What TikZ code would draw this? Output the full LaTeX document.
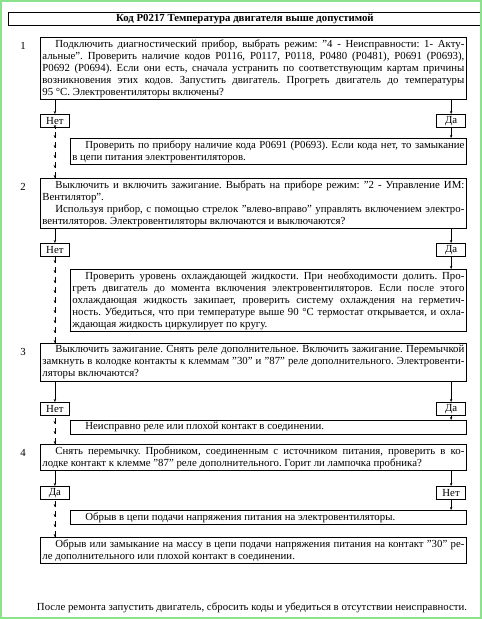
\documentclass[tikz,border=0pt]{standalone}
\usepackage{fontspec}
\defaultfontfeatures{}
\setmainfont{Liberation Serif}
\usetikzlibrary{arrows.meta,decorations.markings}

\definecolor{frameGreen}{RGB}{140,225,140}
\newcommand{\ind}{\hspace*{13pt}}
\newcommand{\nl}{\linebreak}
\frenchspacing

\tikzset{
  txt/.style={font=\fontsize{10.8}{12}\selectfont},
  stepbox/.style={txt, draw, line width=0.8pt, anchor=north west, inner xsep=2pt, inner ysep=2pt,
    align=justify, text width=#1},
  answer/.style={txt, draw, line width=0.8pt, minimum width=29pt, minimum height=13pt, inner sep=1pt},
  stepnum/.style={txt, anchor=north},
  flow/.style={-{Stealth[length=3pt,width=2.4pt]}, line width=0.5pt},
  chain/.style={line width=0.5pt, dash pattern=on 6pt off 4pt,
    postaction={decorate, decoration={markings,
      mark=between positions 0 and 1 step 10pt with {\arrowreversed{Stealth[length=3pt,width=2.4pt]}}}}},
}

\begin{document}
\begin{tikzpicture}[x=1pt,y=-1pt]
    \useasboundingbox (0,0) rectangle (482,619);

    \node[txt, draw, line width=0.8pt, anchor=north west, minimum width=473pt, minimum height=13pt, inner sep=0pt,
      font=\fontsize{10.8}{12}\selectfont\bfseries] (title) at (8,12)
      {Код P0217 Температура двигателя выше допустимой};

    % step 1
    \node[stepbox=422pt] (box1) at (40,37) {\ind Подключить диагностический прибор, выбрать режим: "4 - Неисправности: 1- Акту-\nl
      альные". Проверить наличие кодов P0116, P0117, P0118, P0480 (P0481), P0691 (P0693),\nl
      P0692 (P0694). Если они есть, сначала устранить по соответствующим картам причины\nl
      возникновения этих кодов. Запустить двигатель. Прогреть двигатель до температуры\nl
      95 °C. Электровентиляторы включены?};
    \node[stepnum] (num1) at ([xshift=-17pt,yshift=-2pt]box1.north west) {1};
    \node[answer, anchor=north west] (no1) at (40,114) {Нет};
    \node[answer, anchor=north east] (yes1) at (466,114) {Да};
    \node[stepbox=392pt] (box1a) at (70,138) {\ind Проверить по прибору наличие кода P0691 (P0693). Если кода нет, то замыкание\nl
      в цепи питания электровентиляторов.};
    \draw[flow] (no1.north |- box1.south) -- (no1.north);
    \draw[flow] (yes1.north |- box1.south) -- (yes1.north);
    \draw[flow] (yes1.south) -- (yes1.south |- box1a.north);

    % step 2
    \node[stepbox=422pt] (box2) at (40,178) {\ind Выключить и включить зажигание. Выбрать на приборе режим: "2 - Управление ИМ:\nl
      Вентилятор".\par
      \ind Используя прибор, с помощью стрелок "влево-вправо" управлять включением электро-\nl
      вентиляторов. Электровентиляторы включаются и выключаются?};
    \node[stepnum] (num2) at ([xshift=-17pt,yshift=-2pt]box2.north west) {2};
    \draw[chain] (no1.south |- box2.north) -- (no1.south);
    \node[answer, anchor=north west] (no2) at (40,243) {Нет};
    \node[answer, anchor=north east] (yes2) at (466,243) {Да};
    \node[stepbox=392pt] (box2a) at (70,269) {\ind Проверить уровень охлаждающей жидкости. При необходимости долить. Про-\nl
      греть двигатель до момента включения электровентиляторов. Если после этого\nl
      охлаждающая жидкость закипает, проверить систему охлаждения на герметич-\nl
      ность. Убедиться, что при температуре выше 90 °C термостат открывается, и охла-\nl
      ждающая жидкость циркулирует по кругу.};
    \draw[flow] (no2.north |- box2.south) -- (no2.north);
    \draw[flow] (yes2.north |- box2.south) -- (yes2.north);
    \draw[flow] (yes2.south) -- (yes2.south |- box2a.north);

    % step 3
    \node[stepbox=422pt] (box3) at (40,343) {\ind Выключить зажигание. Снять реле дополнительное. Включить зажигание. Перемычкой\nl
      замкнуть в колодке контакты к клеммам "30" и "87" реле дополнительного. Электровенти-\nl
      ляторы включаются?};
    \node[stepnum] (num3) at ([xshift=-17pt,yshift=-2pt]box3.north west) {3};
    \draw[chain] (no2.south |- box3.north) -- (no2.south);
    \node[answer, anchor=north west] (no3) at (40,402) {Нет};
    \node[answer, anchor=north east] (yes3) at (466,402) {Да};
    \node[stepbox=392pt] (box3a) at (70,420) {\ind Неисправно реле или плохой контакт в соединении.};
    \draw[flow] (no3.north |- box3.south) -- (no3.north);
    \draw[flow] (yes3.north |- box3.south) -- (yes3.north);
    \draw[flow] (yes3.south) -- (yes3.south |- box3a.north);

    % step 4
    \node[stepbox=422pt] (box4) at (40,444) {\ind Снять перемычку. Пробником, соединенным с источником питания, проверить в ко-\nl
      лодке контакт к клемме "87" реле дополнительного. Горит ли лампочка пробника?};
    \node[stepnum] (num4) at ([xshift=-17pt,yshift=-2pt]box4.north west) {4};
    \draw[chain] (no3.south |- box4.north) -- (no3.south);
    \node[answer, anchor=north west] (yes4) at (40,486) {Да};
    \node[answer, anchor=north east] (no4) at (466,486) {Нет};
    \node[stepbox=392pt] (box4a) at (70,510) {\ind Обрыв в цепи подачи напряжения питания на электровентиляторы.};
    \node[stepbox=422pt] (box4b) at (40,537) {\ind Обрыв или замыкание на массу в цепи подачи напряжения питания на контакт "30" ре-\nl
      ле дополнительного или плохой контакт в соединении.};
    \draw[flow] (yes4.north |- box4.south) -- (yes4.north);
    \draw[flow] (no4.north |- box4.south) -- (no4.north);
    \draw[flow] (no4.south) -- (no4.south |- box4a.north);
    \draw[chain] (yes4.south |- box4b.north) -- (yes4.south);

    \node[txt, anchor=base] (final) at (252,610) {После ремонта запустить двигатель, сбросить коды и убедиться в отсутствии неисправности.};

    \draw[frameGreen, line width=2pt] (1,1) rectangle (481,618);

\end{tikzpicture}
\end{document}
